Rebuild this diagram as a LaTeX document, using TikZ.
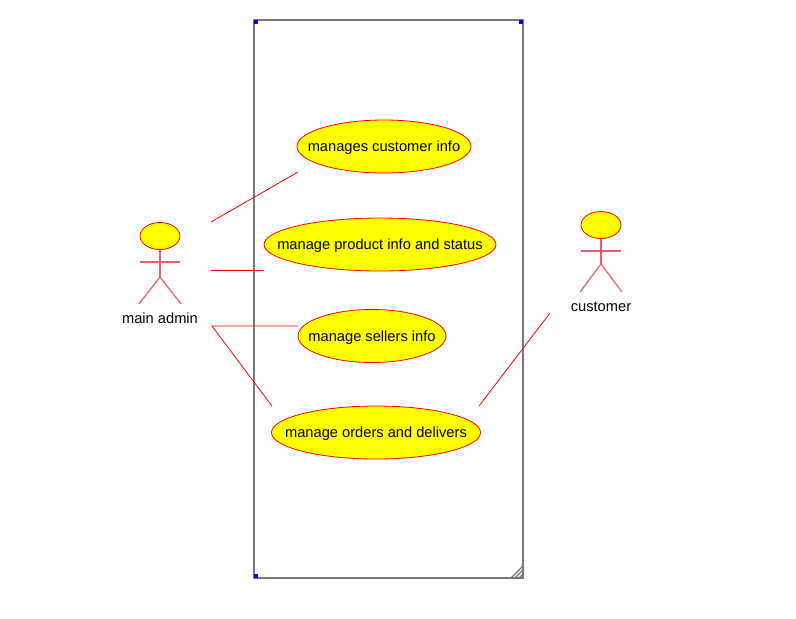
\documentclass[tikz,border=0pt]{standalone}
\usepackage{fontspec}
\setmainfont{Liberation Sans}
\usetikzlibrary{shapes.geometric}
\definecolor{caseyellow}{RGB}{255,255,0}
\definecolor{linered}{RGB}{255,0,0}
\definecolor{limbred}{RGB}{240,90,105}
\definecolor{handleblue}{RGB}{0,0,255}
\definecolor{boxgray}{RGB}{120,120,120}
\newcommand{\casetext}[1]{\makebox[0pt]{\raisebox{-4.1pt}[0pt][0pt]{#1}}}

\begin{document}
\begin{tikzpicture}[
			x=0.75pt, y=-0.75pt,
			usecase/.style={ellipse, draw=linered, fill=caseyellow, line width=0.6pt, inner sep=0pt, minimum height=39.75pt, font=\fontsize{11}{13}\selectfont},
			actorhead/.style={ellipse, draw=linered, fill=caseyellow, line width=0.6pt, inner sep=0pt, minimum width=30pt, minimum height=20.25pt},
			actorlabel/.style={inner sep=0pt, font=\fontsize{11}{13}\selectfont},
			assoc/.style={draw=linered, line width=0.6pt},
			limb/.style={draw=limbred, line width=0.9pt},
			sysbox/.style={draw=boxgray, line width=1.5pt},
			handle/.style={fill=handleblue, draw=none, inner sep=0pt, minimum size=3pt},
			]
			\useasboundingbox (0,0) rectangle (796,618);

			%System box
			\coordinate (boxNW) at (254,20);
			\coordinate (boxNE) at (523,20);
			\coordinate (boxSE) at (523,578);
			\coordinate (boxSW) at (254,578);
			\draw[sysbox] (boxNW) -- (boxNE) -- (boxSE) -- (boxSW) -- cycle;
			\node[handle] (handle1) at (256,21.5) {};
			\node[handle] (handle2) at (521,21.5) {};
			\node[handle] (handle3) at (256,576) {};
			\foreach \i in {4,8,12} {
				\draw[draw=boxgray, line width=1pt] (523-\i,578) -- (523,578-\i);
			}

			%Use cases
			\node[usecase, minimum width=130.5pt] (info)     at (384,146.5) {\casetext{manages customer info}};
			\node[usecase, minimum width=174pt]   (product)  at (380,244.5) {\casetext{manage product info and status}};
			\node[usecase, minimum width=111pt]   (sellers)  at (372,336)   {\casetext{manage sellers info}};
			\node[usecase, minimum width=156.75pt] (orders)  at (376,432.5) {\casetext{manage orders and delivers}};

			%Main admin
			\node[actorhead] (adminHead) at (160,236) {};
			\coordinate (adminHip)  at (160,277);
			\coordinate (adminArmL) at (140,262);
			\coordinate (adminArmR) at (180,262);
			\coordinate (adminFootL) at (139,304);
			\coordinate (adminFootR) at (181,304);
			\draw[limb] (adminHead) -- (adminHip);
			\draw[limb] (adminArmL) -- (adminArmR);
			\draw[limb] (adminFootL) -- (adminHip) -- (adminFootR);
			\node[actorlabel] (adminLabel) at (160,318.5) {main admin};

			%Customer
			\node[actorhead] (custHead) at (601,225) {};
			\coordinate (custHip)  at (601,264);
			\coordinate (custArmL) at (581,251);
			\coordinate (custArmR) at (621,251);
			\coordinate (custFootL) at (580,292);
			\coordinate (custFootR) at (622,292);
			\draw[limb] (custHead) -- (custHip);
			\draw[limb] (custArmL) -- (custArmR);
			\draw[limb] (custFootL) -- (custHip) -- (custFootR);
			\node[actorlabel] (custLabel) at (601,306.5) {customer};

			%Associations
			\coordinate (infoA)    at (211,222);
			\coordinate (infoB)    at (298,172);
			\coordinate (productA) at (211,270);
			\coordinate (productB) at (264,270);
			\coordinate (sellersA) at (212,326);
			\coordinate (sellersB) at (298,326);
			\coordinate (ordersB)  at (272,406);
			\coordinate (custA)    at (479,406);
			\coordinate (custB)    at (550,313);
			\draw[assoc] (infoA) -- (infoB);
			\draw[assoc] (productA) -- (productB);
			\draw[assoc] (sellersB) -- (sellersA) -- (ordersB);
			\draw[assoc] (custA) -- (custB);
		\end{tikzpicture}
\end{document}
